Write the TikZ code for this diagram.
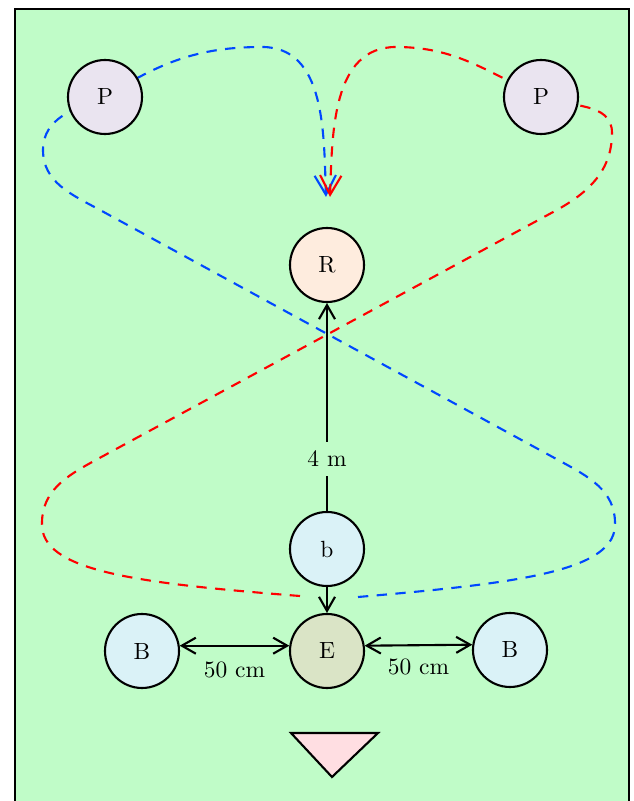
\documentclass[tikz,border=0pt]{standalone}
\usepackage{xcolor}
\usepackage{tikz}
\usetikzlibrary{arrows.meta, positioning, calc}
\definecolor{fieldgreen}{RGB}{192, 252, 200}
\definecolor{passpurple}{RGB}{234, 228, 240}
\definecolor{recpeach}{RGB}{254, 236, 222}
\definecolor{ballcyan}{RGB}{218, 242, 247}
\definecolor{endolive}{RGB}{218, 228, 198}
\definecolor{goalpink}{RGB}{255, 222, 226}
\definecolor{runblue}{RGB}{0, 72, 255}
\definecolor{runred}{RGB}{255, 0, 0}
\pgfdeclarelayer{bg}
\pgfsetlayers{bg,main}
\tikzset{
    player/.style={circle, draw=black, line width=0.9pt, minimum size=11.1mm,
                   inner sep=0pt, fill=#1},
    run/.style={line width=0.9pt, dash pattern=on 4.4pt off 3.6pt,
                -{Straight Barb[length=2.9mm, width=3.2mm]}, color=#1},
    field/.style={line width=0.9pt, draw=black, fill=fieldgreen},
}

\begin{document}
\begin{tikzpicture}[
    x=0.15mm, y=0.15mm,
    arr/.style={-{Straight Barb[length=2.1mm, width=2.4mm]}, line width=0.9pt},
    darr/.style={{Straight Barb[length=2.1mm, width=2.4mm]}-{Straight Barb[length=2.1mm, width=2.4mm]},
                 line width=0.9pt},
]
    \useasboundingbox (0,0) rectangle (633,801);

    % Players
    \node[player=passpurple] (pl) at (105,704) {P};
    \node[player=passpurple] (pr) at (541,704) {P};
    \node[player=recpeach] (r) at (327,536) {R};
    \node[player=ballcyan] (b) at (327,252) {b};
    \node[player=endolive] (e) at (327,150) {E};
    \node[player=ballcyan] (bl) at (142,150) {B};
    \node[player=ballcyan] (br) at (510,151) {B};

    % Run ends
    \coordinate (aimblue) at ($(r.north)+(-1,30)$);
    \coordinate (aimred) at ($(r.north)+(3,30)$);
    \coordinate (bluestart) at (358,204);
    \coordinate (redstart) at (300,205);

    \begin{pgfonlayer}{bg}
        % Field
        \draw[field] (15,-30) rectangle (629,792);

        % Blue run
        \draw[run=runblue] (bluestart) .. controls (520,218) and (617,230) .. (615,278)
            to[out=90, in=-28.5] (560,340) -- (100,591)
            to[out=151.5, in=-90] (43,651) to[out=90, in=200] (pl.center)
            to[out=32, in=180] (262,754) to[out=0, in=92] (aimblue);

        % Red run
        \draw[run=runred] (redstart) .. controls (135,218) and (40,230) .. (42,278)
            to[out=90, in=208.5] (94,340) -- (555,590)
            to[out=28.5, in=-90] (612,668) to[out=90, in=-20] (pr.center)
            to[out=155, in=0] (396,754) to[out=180, in=88] (aimred);
    \end{pgfonlayer}

    % Distances
    \draw[arr] (b) -- node[pos=0.25, fill=fieldgreen, inner sep=4pt] (four) {4 m} (r);
    \draw[arr] (b) -- (e);
    \draw[darr] (bl.8) -- node[below=3pt] (dleft) {50 cm} (e.172);
    \draw[darr] (e.8) -- node[below=2pt] (dright) {50 cm} (br.172);

    % Goal
    \draw[line width=0.9pt, fill=goalpink] (291,68) -- (378,68) -- (332,24) -- cycle;
\end{tikzpicture}
\end{document}
